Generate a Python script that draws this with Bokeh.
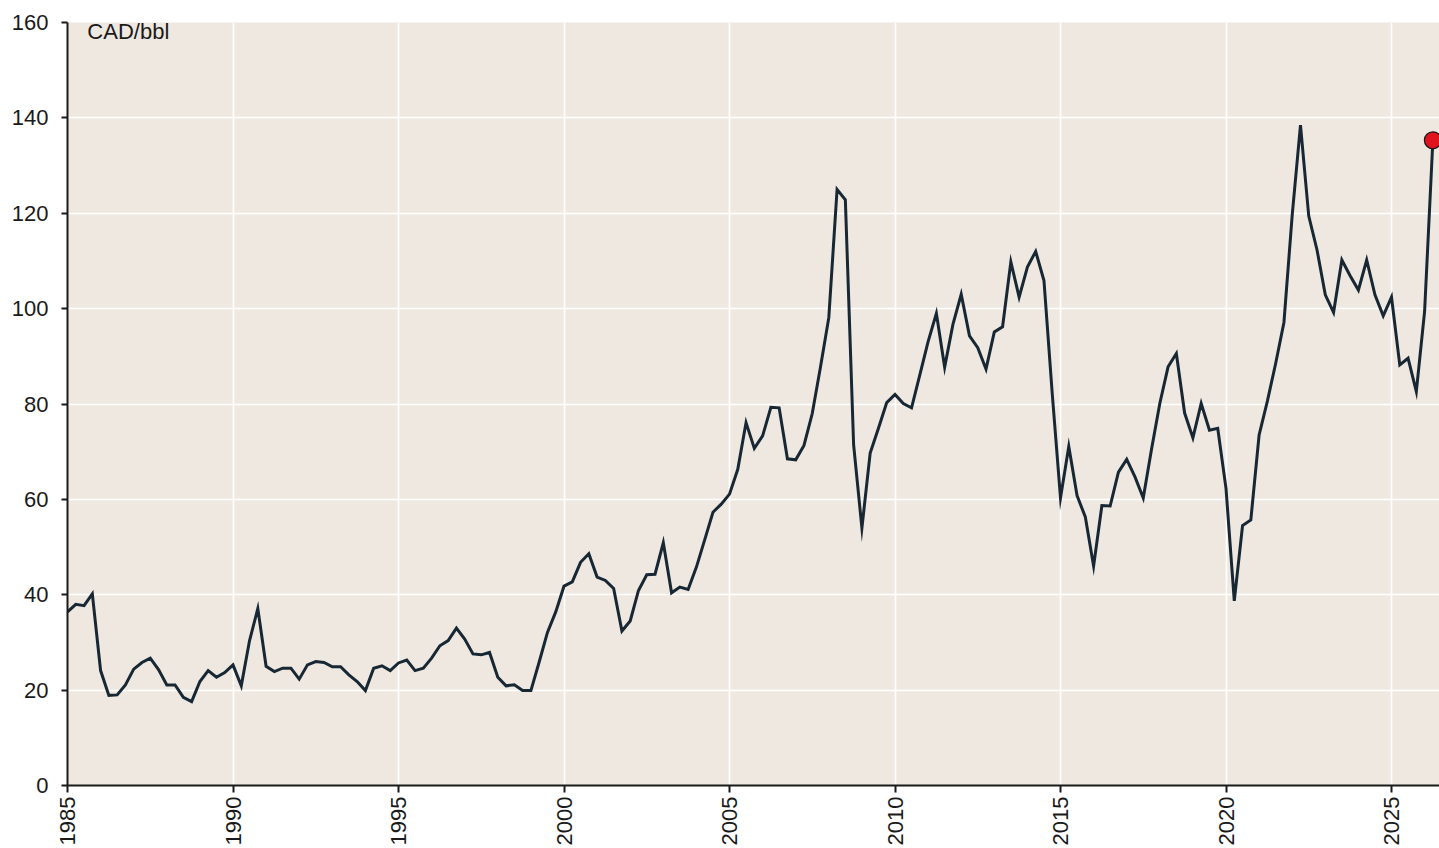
import math
from bokeh.plotting import figure
from bokeh.models import FixedTicker, Label, ColumnDataSource, Range1d
from bokeh.embed import file_html
from bokeh.resources import INLINE

# ---- data -------------------------------------------------------------
start_year = 1985
price_cad_bbl = [
    36.4, 38.0, 37.7, 40.2,      # 1985
    24.1, 18.9, 19.0, 21.1,      # 1986
    24.4, 25.8, 26.7, 24.3,      # 1987
    21.1, 21.1, 18.5, 17.6,      # 1988
    21.8, 24.1, 22.7, 23.7,      # 1989
    25.3, 20.9, 30.4, 37.1,      # 1990
    25.0, 23.9, 24.6, 24.6,      # 1991
    22.3, 25.3, 26.0, 25.8,      # 1992
    24.9, 24.9, 23.2, 21.8,      # 1993
    19.9, 24.6, 25.1, 24.1,      # 1994
    25.7, 26.3, 24.1, 24.6,      # 1995
    26.7, 29.3, 30.4, 33.0,      # 1996
    30.7, 27.6, 27.4, 27.9,      # 1997
    22.7, 20.9, 21.1, 19.9,      # 1998
    19.9, 25.9, 32.1, 36.4,      # 1999
    41.8, 42.7, 46.8, 48.6,      # 2000
    43.7, 43.0, 41.3, 32.4,      # 2001
    34.5, 40.9, 44.2, 44.3,      # 2002
    50.9, 40.4, 41.6, 41.1,      # 2003
    45.8, 51.5, 57.3, 59.0,      # 2004
    61.1, 66.3, 76.1, 70.7,      # 2005
    73.3, 79.3, 79.2, 68.5,      # 2006
    68.3, 71.3, 78.0, 87.8,      # 2007
    98.1, 125.0, 122.8, 71.4,    # 2008
    54.0, 69.7, 74.9, 80.3,      # 2009
    82.0, 80.1, 79.2, 86.1,      # 2010
    93.1, 99.0, 87.7, 96.7,      # 2011
    103.0, 94.3, 91.8, 87.3,     # 2012
    95.1, 96.2, 109.8, 102.4,    # 2013
    108.7, 112.0, 105.9, 82.2,   # 2014
    60.3, 71.1, 60.8, 56.3,      # 2015
    46.0, 58.7, 58.6, 65.7,      # 2016
    68.4, 64.7, 60.3, 70.5,      # 2017
    80.1, 87.8, 90.6, 78.1,      # 2018
    72.9, 80.1, 74.5, 74.9,      # 2019
    62.3, 38.7, 54.5, 55.7,      # 2020
    73.5, 80.6, 88.5, 97.1,      # 2021
    119.6, 138.5, 119.4, 112.3,  # 2022
    102.9, 99.2, 110.2, 106.9,   # 2023
    103.9, 110.2, 102.9, 98.5,   # 2024
    102.4, 88.2, 89.6, 82.6,     # 2025
    99.4, 135.3,                 # 2026
]
x_ticks = [1985, 1990, 1995, 2000, 2005, 2010, 2015, 2020, 2025]
y_ticks = [0, 20, 40, 60, 80, 100, 120, 140, 160]
unit_label = "CAD/bbl"

# quarterly time positions (decimal years)
quarters = [start_year + i / 4 for i in range(len(price_cad_bbl))]

src = ColumnDataSource(dict(x=quarters, y=price_cad_bbl))
last = ColumnDataSource(dict(x=quarters[-1:], y=price_cad_bbl[-1:]))

FONT = "Liberation Sans"
BG = "#EFE8E1"
LINE = "#172733"

p = figure(
    width=1439, height=848,
    output_backend="svg", toolbar_location=None,
    x_range=Range1d(1985, 2026.45), y_range=Range1d(0, 160),
    min_border_left=67, min_border_right=0, min_border_top=22, min_border_bottom=10,
)
p.background_fill_color = BG
p.border_fill_color = "white"
p.outline_line_color = None

p.line("x", "y", source=src, line_color=LINE, line_width=3, line_join="miter")
p.scatter("x", "y", source=last, size=17, fill_color="#E0141E",
          line_color="#1a1a1a", line_width=1.2)

for ax in (p.xaxis[0], p.yaxis[0]):
    ax.axis_line_color = "#1a1a1a"
    ax.axis_line_width = 2
    ax.major_tick_line_color = "#1a1a1a"
    ax.major_tick_line_width = 2
    ax.major_tick_in = 0
    ax.minor_tick_line_color = None
    ax.major_label_text_font = FONT
    ax.major_label_text_font_size = "22px"
    ax.major_label_text_color = "#1a1a1a"

p.xaxis.ticker = FixedTicker(ticks=x_ticks)
p.yaxis.ticker = FixedTicker(ticks=y_ticks)
p.xaxis.major_tick_out = 7
p.yaxis.major_tick_out = 6
p.xaxis.major_label_orientation = math.pi / 2
p.xaxis.major_label_standoff = 4
p.yaxis.major_label_standoff = 13

p.xgrid.ticker = FixedTicker(ticks=x_ticks)
p.ygrid.ticker = FixedTicker(ticks=y_ticks)
for g in (p.xgrid[0], p.ygrid[0]):
    g.grid_line_color = "white"
    g.grid_line_width = 1.6

p.add_layout(Label(x=1985.6, y=160.8, text=unit_label, text_baseline="top",
                   text_font=FONT, text_font_size="22px", text_color="#1a1a1a"))

open("out.html", "w").write(file_html(p, INLINE))
